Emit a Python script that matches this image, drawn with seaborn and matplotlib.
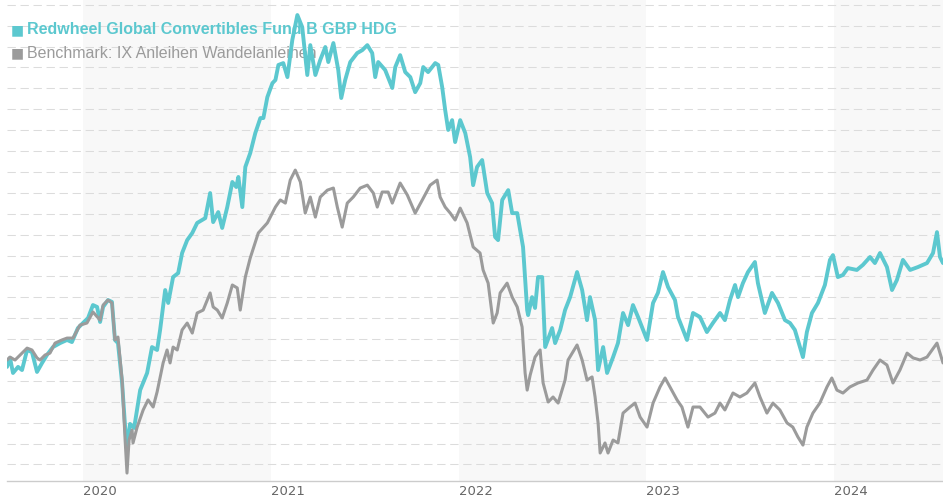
import numpy as np
import pandas as pd
import matplotlib
matplotlib.use("Agg")
import matplotlib.pyplot as plt
import seaborn as sns

# ---------------- data (fractional year, indexed value) ----------------
fund_name = "Redwheel Global Convertibles Fund B GBP HDG"
bench_name = "Benchmark: IX Anleihen Wandelanleihen"

fund_t = [2019.595, 2019.611, 2019.627, 2019.654, 2019.675, 2019.702, 2019.728, 2019.755,
          2019.782, 2019.808, 2019.840, 2019.878, 2019.915, 2019.941, 2019.973, 2020.000,
          2020.027, 2020.053, 2020.075, 2020.091, 2020.107, 2020.133, 2020.154, 2020.170,
          2020.186, 2020.208, 2020.224, 2020.234, 2020.250, 2020.272, 2020.304, 2020.341,
          2020.367, 2020.394, 2020.410, 2020.437, 2020.453, 2020.479, 2020.506, 2020.527,
          2020.554, 2020.581, 2020.607, 2020.650, 2020.676, 2020.692, 2020.719, 2020.740,
          2020.767, 2020.794, 2020.815, 2020.826, 2020.847, 2020.863, 2020.889, 2020.916,
          2020.943, 2020.959, 2020.980, 2021.007, 2021.023, 2021.039, 2021.065, 2021.087,
          2021.113, 2021.140, 2021.166, 2021.193, 2021.209, 2021.236, 2021.262, 2021.289,
          2021.305, 2021.332, 2021.358, 2021.374, 2021.395, 2021.422, 2021.459, 2021.486,
          2021.513, 2021.539, 2021.555, 2021.571, 2021.608, 2021.646, 2021.662, 2021.688,
          2021.715, 2021.742, 2021.768, 2021.795, 2021.811, 2021.837, 2021.875, 2021.891,
          2021.912, 2021.928, 2021.944, 2021.965, 2021.981, 2022.008, 2022.035, 2022.061,
          2022.077, 2022.098, 2022.125, 2022.152, 2022.178, 2022.194, 2022.210, 2022.232,
          2022.264, 2022.285, 2022.312, 2022.343, 2022.365, 2022.370, 2022.391, 2022.407,
          2022.423, 2022.445, 2022.461, 2022.498, 2022.514, 2022.541, 2022.567, 2022.594,
          2022.631, 2022.658, 2022.684, 2022.700, 2022.727, 2022.743, 2022.770, 2022.791,
          2022.823, 2022.849, 2022.876, 2022.903, 2022.929, 2022.956, 2023.004, 2023.036,
          2023.062, 2023.089, 2023.116, 2023.153, 2023.169, 2023.196, 2023.217, 2023.249,
          2023.286, 2023.323, 2023.355, 2023.393, 2023.419, 2023.446, 2023.473, 2023.489,
          2023.515, 2023.542, 2023.579, 2023.595, 2023.632, 2023.670, 2023.702, 2023.739,
          2023.766, 2023.792, 2023.819, 2023.835, 2023.856, 2023.883, 2023.915, 2023.952,
          2023.979, 2023.995, 2024.021, 2024.048, 2024.074, 2024.122, 2024.154, 2024.192,
          2024.218, 2024.245, 2024.282, 2024.309, 2024.335, 2024.367, 2024.405, 2024.447,
          2024.495, 2024.527, 2024.548, 2024.564, 2024.580]
fund_v = [96.7, 101.0, 93.8, 96.7, 95.2, 104.8, 103.8, 94.3,
          98.6, 102.4, 106.2, 108.1, 109.6, 108.6, 115.3, 117.7,
          120.1, 126.3, 125.4, 118.2, 125.4, 128.7, 127.8, 109.6,
          108.1, 89.0, 67.9, 57.9, 69.4, 67.5, 85.6, 93.8,
          106.2, 104.8, 114.4, 133.5, 127.3, 139.7, 141.6, 151.2,
          157.4, 160.8, 165.6, 167.9, 179.9, 166.0, 170.8, 163.2,
          173.2, 185.2, 182.8, 187.6, 173.2, 192.4, 199.0, 208.6,
          215.8, 215.8, 225.8, 232.5, 234.0, 241.2, 242.1, 235.4,
          253.1, 265.1, 259.3, 236.4, 250.7, 236.4, 243.6, 249.8,
          242.6, 251.7, 238.8, 225.4, 234.0, 242.6, 246.9, 248.3,
          250.7, 246.9, 235.4, 242.6, 238.8, 230.2, 240.2, 245.9,
          237.8, 235.4, 228.2, 232.5, 240.2, 237.8, 242.1, 241.2,
          230.6, 219.6, 210.1, 214.8, 204.3, 214.8, 208.6, 197.1,
          183.7, 192.4, 195.7, 179.9, 175.1, 158.9, 157.4, 176.6,
          181.3, 170.3, 170.3, 154.1, 123.9, 121.5, 130.1, 124.9,
          139.7, 139.7, 106.2, 115.3, 108.1, 114.4, 123.9, 130.1,
          142.1, 133.5, 119.1, 130.1, 119.1, 95.2, 106.2, 93.8,
          101.4, 108.1, 122.5, 116.7, 126.3, 120.6, 109.6, 127.3,
          132.1, 142.1, 134.9, 128.7, 120.6, 114.4, 109.6, 122.5,
          120.6, 113.4, 117.7, 122.5, 119.1, 128.7, 135.9, 130.1,
          136.8, 142.1, 146.9, 136.8, 122.5, 132.1, 127.3, 119.1,
          117.7, 114.4, 106.2, 101.4, 113.4, 122.5, 127.3, 135.9,
          147.9, 150.2, 139.7, 140.7, 144.0, 143.1, 145.5, 149.3,
          146.4, 151.2, 144.5, 133.5, 138.3, 147.9, 143.1, 144.5,
          146.4, 151.2, 161.2, 149.3, 146.4]

bench_t = [2019.595, 2019.611, 2019.638, 2019.654, 2019.675, 2019.702, 2019.728, 2019.755,
           2019.771, 2019.798, 2019.824, 2019.851, 2019.888, 2019.915, 2019.947, 2019.984,
           2020.021, 2020.053, 2020.091, 2020.107, 2020.133, 2020.154, 2020.170, 2020.186,
           2020.208, 2020.224, 2020.234, 2020.245, 2020.261, 2020.266, 2020.288, 2020.320,
           2020.346, 2020.373, 2020.394, 2020.426, 2020.447, 2020.463, 2020.479, 2020.501,
           2020.527, 2020.554, 2020.581, 2020.607, 2020.639, 2020.676, 2020.692, 2020.714,
           2020.740, 2020.767, 2020.794, 2020.820, 2020.836, 2020.863, 2020.889, 2020.932,
           2020.980, 2021.023, 2021.049, 2021.076, 2021.102, 2021.129, 2021.156, 2021.182,
           2021.209, 2021.236, 2021.262, 2021.300, 2021.332, 2021.353, 2021.379, 2021.406,
           2021.438, 2021.475, 2021.513, 2021.545, 2021.566, 2021.592, 2021.624, 2021.646,
           2021.688, 2021.726, 2021.768, 2021.806, 2021.848, 2021.885, 2021.901, 2021.928,
           2021.955, 2021.981, 2022.008, 2022.045, 2022.077, 2022.114, 2022.130, 2022.157,
           2022.184, 2022.205, 2022.221, 2022.258, 2022.285, 2022.312, 2022.338, 2022.354,
           2022.365, 2022.381, 2022.407, 2022.434, 2022.450, 2022.477, 2022.503, 2022.530,
           2022.567, 2022.583, 2022.631, 2022.658, 2022.684, 2022.711, 2022.727, 2022.743,
           2022.754, 2022.780, 2022.796, 2022.823, 2022.849, 2022.876, 2022.913, 2022.940,
           2022.967, 2023.004, 2023.036, 2023.073, 2023.100, 2023.126, 2023.164, 2023.190,
           2023.222, 2023.249, 2023.286, 2023.329, 2023.366, 2023.393, 2023.419, 2023.462,
           2023.499, 2023.536, 2023.579, 2023.606, 2023.643, 2023.675, 2023.712, 2023.750,
           2023.781, 2023.808, 2023.835, 2023.856, 2023.888, 2023.925, 2023.963, 2023.989,
           2024.016, 2024.048, 2024.085, 2024.128, 2024.176, 2024.208, 2024.245, 2024.282,
           2024.314, 2024.351, 2024.389, 2024.421, 2024.458, 2024.495, 2024.522, 2024.548,
           2024.580]
bench_v = [100.0, 101.4, 100.0, 101.4, 103.3, 105.7, 104.8, 101.0,
           100.0, 102.4, 103.3, 108.1, 109.6, 110.5, 110.5, 116.7,
           117.7, 123.0, 119.1, 126.3, 128.7, 127.3, 109.6, 111.0,
           90.4, 61.7, 45.9, 61.7, 66.5, 60.3, 67.9, 76.1,
           80.9, 77.5, 84.7, 98.6, 104.8, 98.6, 106.2, 104.8,
           114.4, 117.7, 112.9, 122.5, 123.9, 132.1, 125.4, 123.9,
           120.1, 127.3, 135.9, 134.5, 123.9, 139.7, 148.8, 160.8,
           165.6, 173.2, 176.6, 175.1, 186.1, 190.9, 185.2, 170.3,
           178.0, 168.4, 178.0, 181.3, 182.3, 173.2, 163.6, 175.1,
           178.0, 182.3, 183.7, 179.9, 173.2, 180.4, 180.4, 175.1,
           184.7, 179.0, 170.3, 176.6, 183.7, 186.1, 178.0, 173.2,
           170.3, 167.0, 172.7, 165.6, 154.1, 151.2, 143.1, 136.8,
           117.7, 122.5, 132.1, 136.8, 130.1, 125.4, 115.8, 93.8,
           85.6, 92.8, 101.4, 104.8, 89.0, 79.9, 82.3, 79.4,
           90.4, 100.0, 107.2, 100.0, 90.4, 91.9, 82.3, 69.9,
           55.5, 60.3, 55.5, 61.7, 60.3, 74.6, 77.5, 79.4,
           72.7, 67.9, 79.4, 87.1, 91.4, 87.1, 80.9, 77.5,
           67.9, 77.5, 77.5, 72.7, 74.6, 79.4, 76.1, 84.2,
           82.3, 84.2, 89.0, 82.3, 74.6, 79.4, 76.1, 69.9,
           67.9, 63.2, 59.3, 67.9, 74.6, 79.4, 87.1, 91.4,
           85.6, 84.2, 87.1, 89.0, 90.4, 95.2, 100.0, 97.6,
           89.0, 95.2, 103.3, 101.0, 100.0, 101.4, 104.8, 108.1,
           98.6]

year_labels = ["2020", "2021", "2022", "2023", "2024"]
shaded_years = [2020, 2022, 2024]

# ---------------- helpers ----------------
def to_date(t):
    t = np.atleast_1d(np.asarray(t, dtype=float))
    yrs = np.floor(t).astype(int)
    frac = t - yrs
    start = pd.to_datetime([f"{y}-01-01" for y in yrs])
    leap = np.array([(y % 4 == 0 and y % 100 != 0) or y % 400 == 0 for y in yrs])
    days = np.where(leap, 366, 365)
    return start + pd.to_timedelta(frac * days, unit="D")

df = pd.concat([
    pd.DataFrame({"date": to_date(fund_t), "value": fund_v, "series": fund_name}),
    pd.DataFrame({"date": to_date(bench_t), "value": bench_v, "series": bench_name}),
], ignore_index=True)

# ---------------- style ----------------
sns.set_theme(style="white")
plt.rcParams["font.family"] = ["Liberation Sans", "DejaVu Sans"]

TEAL = "#5cc8cf"
GREY = "#9b9b9b"

fig = plt.figure(figsize=(9.43, 5.0), dpi=100)
ax = fig.add_axes([7 / 943, 19 / 500, 936 / 943, 481 / 500])

for y in shaded_years:
    ax.axvspan(pd.Timestamp(f"{y}-01-01"), pd.Timestamp(f"{y + 1}-01-01"),
               color="#f8f8f8", zorder=0, lw=0)

sns.lineplot(data=df, x="date", y="value", hue="series",
             hue_order=[fund_name, bench_name], palette=[TEAL, GREY],
             linewidth=2.2, legend=False, ax=ax, zorder=3, estimator=None, sort=False)
lines = ax.get_lines()
if len(lines) >= 2:
    lines[0].set_linewidth(2.8)
    lines[1].set_linewidth(2.2)
    for ln in lines[:2]:
        ln.set_solid_joinstyle("round")

ax.set_xlim(to_date(2019.595)[0], to_date(2024.580)[0])
ax.set_ylim(42.1, 272.3)

ax.set_yticks(np.arange(50, 271, 10))
ax.set_yticklabels([])
ax.tick_params(axis="y", length=0)
ax.grid(axis="y", color="#dcdcdc", linewidth=0.75, linestyle=(0, (8, 4.5)))
ax.grid(axis="x", visible=False)
ax.set_axisbelow(True)

ticks = [pd.Timestamp(f"{y}-01-01") for y in year_labels]
ax.set_xticks(ticks)
ax.set_xticklabels(year_labels, ha="left", color="#666666", fontsize=9.5,
                   fontfamily="DejaVu Sans")
ax.tick_params(axis="x", length=0, pad=3)
ax.set_xlabel("")
ax.set_ylabel("")

for s in ["top", "left", "right"]:
    ax.spines[s].set_visible(False)
ax.spines["bottom"].set_color("#cccccc")
ax.spines["bottom"].set_linewidth(1.0)

# legend (drawn under the lines)
ax.text(11 / 943, 1 - 30 / 500, "\u25A0", transform=fig.transFigure, color=TEAL,
        fontsize=10, va="center", ha="left", zorder=1, fontfamily="DejaVu Sans")
ax.text(27 / 943, 1 - 30 / 500, fund_name, transform=fig.transFigure, color=TEAL,
        fontsize=11.5, fontweight="bold", va="center", ha="left", zorder=1)
ax.text(11 / 943, 1 - 53 / 500, "\u25A0", transform=fig.transFigure, color=GREY,
        fontsize=10, va="center", ha="left", zorder=1, fontfamily="DejaVu Sans")
ax.text(27 / 943, 1 - 53 / 500, bench_name, transform=fig.transFigure, color=GREY,
        fontsize=11.5, va="center", ha="left", zorder=1)

fig.savefig("out.png", dpi=100, facecolor="white")
